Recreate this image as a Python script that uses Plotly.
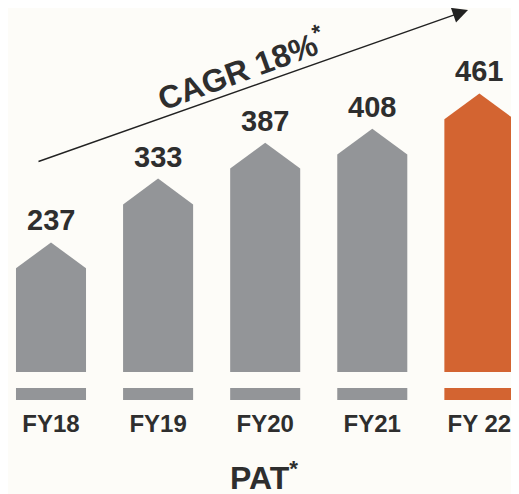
import plotly.graph_objects as go

categories = ["FY18", "FY19", "FY20", "FY21", "FY 22"]
pat_values = [237, 333, 387, 408, 461]
bar_colors = ["#939598", "#939598", "#939598", "#939598", "#d36431"]
cagr_label = "CAGR 18%<sup>*</sup>"
title_text = "PAT<sup>*</sup>"

BG = "#fdfcf8"
TEXT = "#2e2e2e"
HALF_W = 0.327
TIP = 39
GAP_LO, GAP_HI = 18, 42

W, H = 511, 486          # page body has an 8px margin
PLOT_H = 392


def px(xr):
    return (xr - 8) / W


def py(yr):
    return (400 - yr) / PLOT_H


fig = go.Figure()
for i, (cat, v, c) in enumerate(zip(categories, pat_values, bar_colors)):
    xs = [i - HALF_W, i - HALF_W, i, i + HALF_W, i + HALF_W, i - HALF_W]
    ys = [0, v - TIP, v, v - TIP, 0, 0]
    fig.add_trace(go.Scatter(x=xs, y=ys, mode="lines", fill="toself",
                             fillcolor=c, line=dict(color=c, width=0),
                             hoverinfo="skip", showlegend=False))
    fig.add_annotation(x=i, y=v, xref="x", yref="y", text=str(v),
                       showarrow=False, yanchor="middle", xanchor="center", yshift=22,
                       font=dict(family="Liberation Sans", size=29, color=TEXT, weight="bold"))

# gap separating base strip from body
fig.add_shape(type="rect", xref="paper", yref="y", x0=0, x1=1, y0=GAP_LO, y1=GAP_HI,
              fillcolor=BG, line=dict(width=0), layer="above")

# CAGR arrow
fig.add_annotation(xref="paper", yref="paper", x=px(468), y=py(10),
                   ax=-431, ay=152, axref="pixel", ayref="pixel", text="",
                   showarrow=True, arrowhead=2, arrowsize=2.2, arrowwidth=1.4,
                   arrowcolor="#222222")
fig.add_annotation(xref="paper", yref="paper", x=px(241), y=py(68),
                   xanchor="center", yanchor="middle",
                   text=cagr_label, showarrow=False, textangle=-20,
                   font=dict(family="Liberation Sans", size=32, color=TEXT, weight="bold"))
# Title
fig.add_annotation(xref="paper", yref="paper", x=px(264), y=py(476),
                   xanchor="center", yanchor="middle",
                   text=title_text, showarrow=False,
                   font=dict(family="Liberation Sans", size=32, color=TEXT, weight="bold"))

fig.update_layout(
    width=W, height=H,
    margin=dict(l=0, r=0, t=0, b=H - PLOT_H),
    paper_bgcolor=BG, plot_bgcolor=BG,
    xaxis=dict(range=[-0.4015, 4.37], tickmode="array",
               tickvals=list(range(len(categories))), ticktext=categories,
               showgrid=False, zeroline=False, showline=False, ticks="",
               ticklabelstandoff=7,
               tickfont=dict(family="Liberation Sans", size=24, color=TEXT, weight="bold")),
    yaxis=dict(range=[0, PLOT_H / 0.665], visible=False),
)
fig.write_html("out.html")
